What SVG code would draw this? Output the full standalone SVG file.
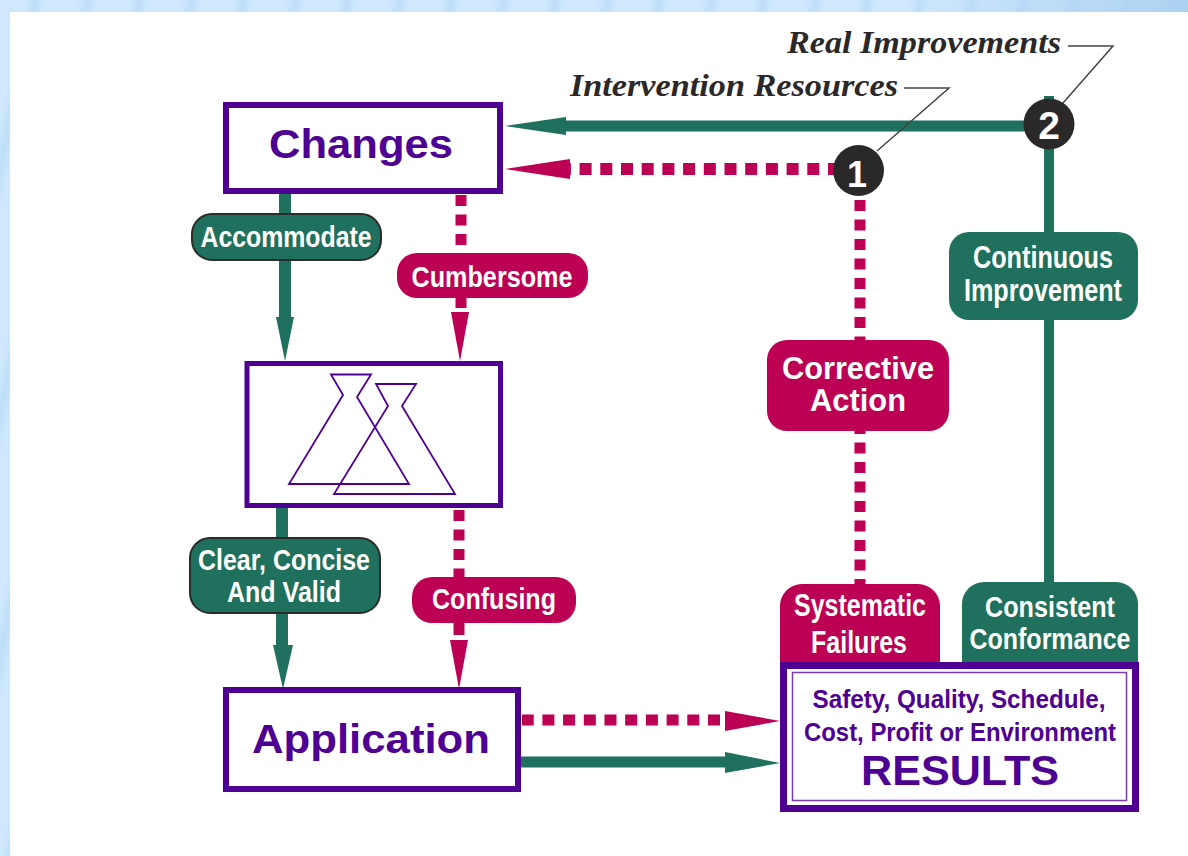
<svg xmlns="http://www.w3.org/2000/svg" width="1188" height="856" viewBox="0 0 1188 856">
<defs>
<linearGradient id="stripe" x1="0" y1="0" x2="1" y2="0"><stop offset="0" stop-color="#cfe8fd"/><stop offset=".5" stop-color="#bfdef8"/><stop offset="1" stop-color="#cfe8fd"/></linearGradient>
<pattern id="bg" width="52" height="856" patternUnits="userSpaceOnUse" patternTransform="skewX(-12)"><rect width="52" height="856" fill="#cfe8fd"/><rect x="26" width="20" height="856" fill="url(#stripe)"/></pattern>
<linearGradient id="right" x1="0" y1="0" x2="1" y2="0"><stop offset="0" stop-color="#a9d0f0" stop-opacity="0"/><stop offset="1" stop-color="#a9d0f0" stop-opacity=".9"/></linearGradient>
<style>
.sg{stroke:#1f705c;fill:none}
.sc{stroke:#bc0054;fill:none}
.dh{stroke-dasharray:12 8.700}
.dv{stroke-dasharray:11 8.500}
.hg{fill:#1f705c}
.hc{fill:#bc0054}
.box{fill:#fff;stroke:#4d0092}
.pg{fill:#1f705c}
.pc{fill:#bc0054}
.edge{stroke:#2b2b2b;stroke-width:2}
.w{font-family:"Liberation Sans",Arial,sans-serif;font-weight:700;fill:#fff;text-anchor:middle}
.v{font-family:"Liberation Sans",Arial,sans-serif;font-weight:700;fill:#4d0092;text-anchor:middle}
.i{font-family:"Liberation Serif","Times New Roman",serif;font-weight:700;font-style:italic;fill:#2b2829}
.lead{stroke:#444;stroke-width:1.500;fill:none}
.fl{fill:none;stroke:#4d0092;stroke-width:1.800}
.badge{fill:#2b2829}
.n{font-family:"Liberation Sans",Arial,sans-serif;font-weight:700;fill:#fff;text-anchor:middle}
</style>
</defs>
<rect id="background" width="1188" height="856" fill="url(#bg)"/>
<rect x="900" width="288" height="12" fill="url(#right)"/>
<rect x="10" y="12" width="1178" height="844" fill="#fff"/>

<g id="connectors">
<path class="sg" stroke-width="11" d="M560 126H1030"/>
<polygon class="hg" points="505,126 566,117 566,135"/>
<path class="sc dh" stroke-width="12" d="M840 169H570"/>
<polygon class="hc" points="505,169 570,159 570,179"/>
<path class="sg" stroke-width="10" d="M1049 96V590"/>
<path class="sc dv" stroke-width="11" d="M860 200V345"/>
<path class="sc dv" stroke-width="11" d="M860 590V425"/>
<path class="sg" stroke-width="12" d="M285 192V322"/>
<polygon class="hg" points="285,361 276,317 294,317"/>
<path class="sc dv" stroke-width="11" d="M461 195V260"/>
<path class="sc" stroke-width="11" d="M461 298V308"/>
<polygon class="hc" points="460,361 451,312 469,312"/>
<path class="sg" stroke-width="12" d="M282 506V650"/>
<polygon class="hg" points="283,689 273,645 293,645"/>
<path class="sc dv" stroke-width="11" d="M459 510V585"/>
<path class="sc" stroke-width="11" d="M459 623V635"/>
<polygon class="hc" points="459,689 450,640 468,640"/>
<path class="sc dh" stroke-width="11" d="M720 720H522"/>
<polygon class="hc" points="780,721 725,711 725,731"/>
<path class="sg" stroke-width="11" d="M520 762H730"/>
<polygon class="hg" points="780,763 725,752 725,773"/>
<path class="lead" d="M904 88H949L877 151"/>
<path class="lead" d="M1068 46H1113L1063 103"/>
</g>

<g id="changes"><rect class="box" x="226" y="105" width="274" height="86" stroke-width="6"/>
<text class="v" x="361" y="158" font-size="40" textLength="184" lengthAdjust="spacingAndGlyphs">Changes</text></g>

<g id="flasks"><rect class="box" x="247" y="363.500" width="253.500" height="142" stroke-width="5"/>
<polygon class="fl" points="331,374.500 371,374.500 357,397 409,484 289,484 343,395"/>
<polygon class="fl" points="376,384 416,384 402,406 455,494 334,494 388,406"/>
</g>

<g id="application"><rect class="box" x="226" y="690" width="292" height="99" stroke-width="6"/>
<text class="v" x="371" y="753" font-size="41" textLength="238" lengthAdjust="spacingAndGlyphs">Application</text></g>

<g id="accommodate"><rect class="pg edge" x="192" y="214" width="189" height="46" rx="20"/>
<text class="w" x="286" y="247" font-size="30" textLength="171" lengthAdjust="spacingAndGlyphs">Accommodate</text></g>

<g id="cumbersome"><rect class="pc" x="397" y="253" width="191" height="45" rx="20"/>
<text class="w" x="492" y="287" font-size="30" textLength="161" lengthAdjust="spacingAndGlyphs">Cumbersome</text></g>

<g id="clear"><rect class="pg edge" x="190" y="538" width="190" height="75" rx="20"/>
<text class="w" x="284" y="570" font-size="30" textLength="172" lengthAdjust="spacingAndGlyphs">Clear, Concise</text>
<text class="w" x="284" y="602" font-size="30" textLength="114" lengthAdjust="spacingAndGlyphs">And Valid</text></g>

<g id="confusing"><rect class="pc" x="412" y="577" width="164" height="46" rx="20"/>
<text class="w" x="494" y="609" font-size="30" textLength="124" lengthAdjust="spacingAndGlyphs">Confusing</text></g>

<g id="corrective"><rect class="pc" x="767" y="340" width="182" height="91" rx="20"/>
<text class="w" x="858" y="379" font-size="31" textLength="152" lengthAdjust="spacingAndGlyphs">Corrective</text>
<text class="w" x="858" y="411" font-size="31" textLength="96" lengthAdjust="spacingAndGlyphs">Action</text></g>

<g id="continuous"><rect class="pg" x="949" y="232" width="189" height="88" rx="20"/>
<text class="w" x="1043" y="268" font-size="31" textLength="140" lengthAdjust="spacingAndGlyphs">Continuous</text>
<text class="w" x="1043" y="301" font-size="31" textLength="158" lengthAdjust="spacingAndGlyphs">Improvement</text></g>

<g id="systematic"><path class="pc" d="M780 664V606a22 22 0 0 1 22-22H918a22 22 0 0 1 22 22V664Z"/>
<text class="w" x="860" y="616" font-size="31" textLength="132" lengthAdjust="spacingAndGlyphs">Systematic</text>
<text class="w" x="859" y="653" font-size="31" textLength="96" lengthAdjust="spacingAndGlyphs">Failures</text></g>

<g id="consistent"><path class="pg" d="M962 664V604a22 22 0 0 1 22-22H1116a22 22 0 0 1 22 22V664Z"/>
<text class="w" x="1050" y="617" font-size="29" textLength="130" lengthAdjust="spacingAndGlyphs">Consistent</text>
<text class="w" x="1050" y="649" font-size="29" textLength="161" lengthAdjust="spacingAndGlyphs">Conformance</text></g>

<g id="results"><rect class="box" x="783.500" y="665.500" width="352" height="143" stroke-width="7"/>
<rect x="792.500" y="672.500" width="334" height="128" fill="none" stroke="#7a3ab0" stroke-width="1.500"/>
<text class="v" x="959" y="708" font-size="25" textLength="293" lengthAdjust="spacingAndGlyphs">Safety, Quality, Schedule,</text>
<text class="v" x="960" y="741" font-size="25" textLength="312" lengthAdjust="spacingAndGlyphs">Cost, Profit or Environment</text>
<text class="v" x="960" y="785" font-size="42" textLength="198" lengthAdjust="spacingAndGlyphs">RESULTS</text></g>

<g id="badge1"><circle class="badge" cx="858.500" cy="170.500" r="25.500"/><text class="n" x="857" y="187" font-size="36">1</text></g>
<g id="badge2"><circle class="badge" cx="1049" cy="124" r="25.500"/><text class="n" x="1049" y="138.500" font-size="39">2</text></g>

<g id="labels">
<text class="i" x="570" y="96" font-size="32" textLength="328" lengthAdjust="spacingAndGlyphs">Intervention Resources</text>
<text class="i" x="787" y="53" font-size="32" textLength="274" lengthAdjust="spacingAndGlyphs">Real Improvements</text>
</g>
</svg>
